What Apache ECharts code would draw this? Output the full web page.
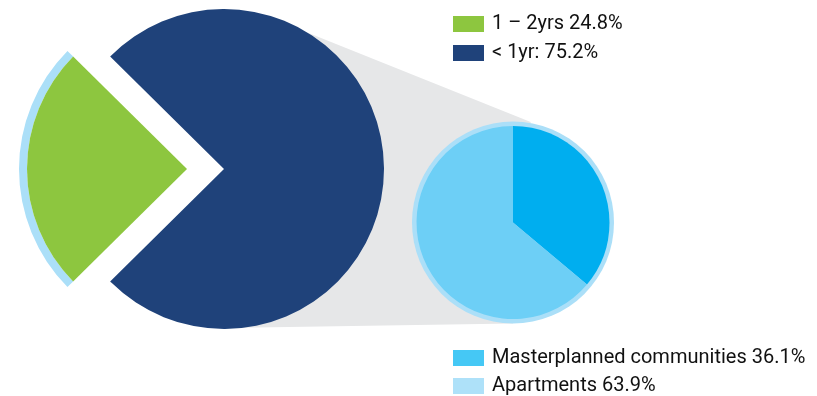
<!DOCTYPE html>
<html>
<head>
<meta charset="utf-8">
<script src="https://cdn.jsdelivr.net/npm/echarts@6/dist/echarts.min.js"></script>
<style>
  html, body { margin: 0; padding: 0; background: #ffffff; }
  #chart { width: 817px; height: 396px; }
</style>
</head>
<body>
<div id="chart"></div>
<script>
// Tenure split (large pie)
const tenureLabels = ['1 – 2yrs', '< 1yr:'];
const tenureShares = [24.8, 75.2];
// Dwelling type split of the exploded slice (small pie)
const typeLabels = ['Masterplanned communities', 'Apartments'];
const typeShares = [36.1, 63.9];

const tenureColors = ['#8dc63f', '#1f427a'];
const typeColors = ['#00aeef', '#6dcff6'];
const typeLegendColors = ['#45c8f5', '#aee1f9'];
const ringColor = '#abdff8';

// Layout
const bigC = [224, 169], bigR = 160;
const slicePull = 37;
const smallC = [513, 222.5], smallR = 96.5, smallRingR = 101;

const tenureNames = tenureLabels.map((l, i) => l + ' ' + tenureShares[i] + '%');
const typeNames = typeLabels.map((l, i) => l + ' ' + typeShares[i] + '%');

// First slice is centred on the left-pointing direction
const bigStart = 180 + tenureShares[0] / 100 * 360 / 2;

// Grey connector between the two pies
function pt(c, r, deg) {
  const a = deg * Math.PI / 180;
  return [c[0] + r * Math.cos(a), c[1] - r * Math.sin(a)];
}
const connector = [
  pt(bigC, bigR - 1, 61),
  pt(smallC, smallRingR + 1, 80),
  pt(smallC, smallRingR, -90),
  pt(bigC, bigR - 1, -90)
];

const legendText = {
  fontFamily: 'Roboto', fontSize: 20,
  color: '#111111', padding: [0, 0, 0, 3]
};

const chart = echarts.init(document.getElementById('chart'), null, { renderer: 'canvas' });
chart.setOption({
  animation: false,
  backgroundColor: '#ffffff',
  graphic: [{
    type: 'polygon',
    z: 0,
    silent: true,
    shape: { points: connector },
    style: { fill: '#e6e7e8' }
  }],
  legend: [{
    orient: 'vertical',
    left: 453, top: 14, height: 70,
    padding: 0,
    itemWidth: 31, itemHeight: 16, itemGap: 9,
    selectedMode: false,
    icon: 'rect',
    textStyle: legendText,
    data: tenureNames
  }, {
    orient: 'vertical',
    left: 453, top: 348, height: 48,
    padding: 0,
    itemWidth: 31, itemHeight: 16, itemGap: 8,
    selectedMode: false,
    icon: 'rect',
    textStyle: legendText,
    data: typeNames.map((n, i) => ({ name: n, itemStyle: { color: typeLegendColors[i] } }))
  }],
  series: [{
    type: 'pie',
    name: 'tenure',
    z: 3,
    center: bigC,
    radius: [0, bigR],
    startAngle: bigStart,
    clockwise: true,
    selectedMode: 'single',
    selectedOffset: slicePull,
    label: { show: false },
    labelLine: { show: false },
    emphasis: { disabled: true },
    data: tenureNames.map((n, i) => ({
      name: n, value: tenureShares[i], selected: i === 0,
      itemStyle: { color: tenureColors[i] }
    }))
  }, {
    // light rim along the outer arc of the pulled-out slice
    type: 'pie',
    name: 'rim',
    z: 2,
    silent: true,
    center: [bigC[0] - slicePull, bigC[1]],
    radius: [bigR, bigR + 8],
    startAngle: bigStart,
    clockwise: true,
    label: { show: false },
    labelLine: { show: false },
    emphasis: { disabled: true },
    data: tenureShares.map((v, i) => ({
      name: 'rim' + i, value: v,
      itemStyle: { color: i === 0 ? ringColor : 'rgba(0,0,0,0)' }
    }))
  }, {
    type: 'pie',
    name: 'typeRing',
    z: 2,
    silent: true,
    center: smallC,
    radius: [0, smallRingR],
    label: { show: false },
    labelLine: { show: false },
    emphasis: { disabled: true },
    data: [{ name: 'ring', value: 1, itemStyle: { color: ringColor } }]
  }, {
    type: 'pie',
    name: 'type',
    z: 3,
    center: smallC,
    radius: [0, smallR],
    startAngle: 90,
    clockwise: true,
    label: { show: false },
    labelLine: { show: false },
    emphasis: { disabled: true },
    data: typeNames.map((n, i) => ({
      name: n, value: typeShares[i],
      itemStyle: { color: typeColors[i] }
    }))
  }]
});
</script>
</body>
</html>
